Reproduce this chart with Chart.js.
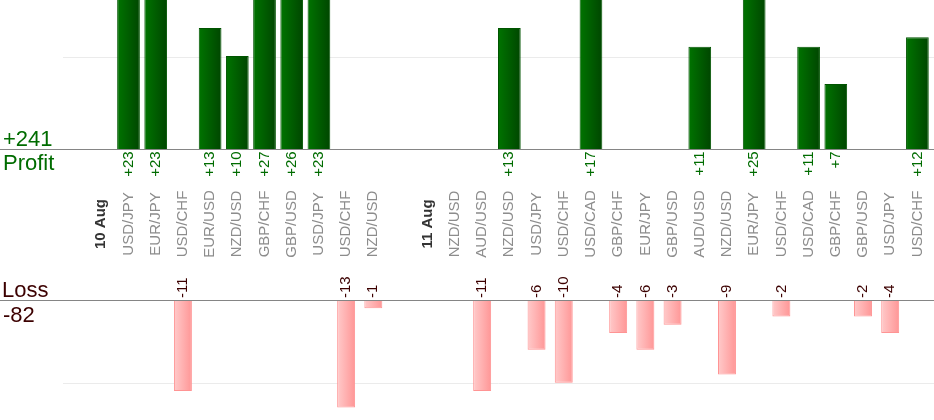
<!DOCTYPE html>
<html>
<head>
<meta charset="utf-8">
<script src="https://cdn.jsdelivr.net/npm/chart.js@4.4.1/dist/chart.umd.min.js"></script>
<style>
  body { margin: 0; background: #fff; overflow: hidden; }
  #wrap { position: relative; width: 934px; height: 420px; }
  canvas { position: absolute; left: 0; }
  #profit-canvas { top: 0; }
  #loss-canvas { top: 250px; }
</style>
</head>
<body>
<div id="wrap">
  <canvas id="profit-canvas" width="934" height="300"></canvas>
  <canvas id="loss-canvas" width="934" height="170"></canvas>
</div>
<script>
const pairs = [
  "", "10 Aug", "USD/JPY", "EUR/JPY", "USD/CHF", "EUR/USD", "NZD/USD", "GBP/CHF",
  "GBP/USD", "USD/JPY", "USD/CHF", "NZD/USD", "", "11 Aug", "NZD/USD", "AUD/USD",
  "NZD/USD", "USD/JPY", "USD/CHF", "USD/CAD", "GBP/CHF", "EUR/JPY", "GBP/USD", "AUD/USD",
  "NZD/USD", "EUR/JPY", "USD/CHF", "USD/CAD", "GBP/CHF", "GBP/USD", "USD/JPY", "USD/CHF",
];
const dayMarks = ["10 Aug", "11 Aug"];

const profitValues = [
  null, null, 23, 23, null, 13, 10, 27,
  26, 23, null, null, null, null, null, null,
  13, null, null, 17, null, null, null, 11,
  null, 25, null, 11, 7, null, null, 12,
];
const lossValues = [
  null, null, null, null, -11, null, null, null,
  null, null, -13, -1, null, null, null, -11,
  null, -6, -10, null, -4, -6, -3, null,
  -9, null, -2, null, null, -2, -4, null,
];

const profitMax = 16;
const lossMin = -14.5;
const gridValue = 10;

const greenText = "#006c00";
const lossText = "#3c0000";
const fontFamily = "'Liberation Sans', Arial, sans-serif";

Chart.defaults.font.family = fontFamily;

const sum = (arr) => arr.reduce((a, v) => a + (v || 0), 0);

const barGradient = (ctx, from, to, pct) => {
  const chart = ctx.chart;
  const xScale = chart.scales.x;
  if (ctx.type !== "data" || !xScale || !chart.chartArea) return from;
  const cx = xScale.getPixelForValue(ctx.dataIndex);
  const half = (chart.chartArea.width / pairs.length) * pct / 2;
  const g = chart.ctx.createLinearGradient(cx - half, 0, cx + half, 0);
  g.addColorStop(0, from);
  g.addColorStop(1, to);
  return g;
};

const drawUp = (ctx, text, x, y, align) => {
  ctx.save();
  ctx.translate(x, y);
  ctx.rotate(-Math.PI / 2);
  ctx.textAlign = align;
  ctx.textBaseline = "middle";
  ctx.fillText(text, 0, 0);
  ctx.restore();
};

const hLine = (ctx, y, x0, x1, color) => {
  ctx.save();
  ctx.strokeStyle = color;
  ctx.lineWidth = 1;
  ctx.beginPath();
  ctx.moveTo(x0, Math.round(y) + 0.5);
  ctx.lineTo(x1, Math.round(y) + 0.5);
  ctx.stroke();
  ctx.restore();
};

// top panel: grid, baseline, totals, values and pair names
const profitDecor = {
  id: "profitDecor",
  beforeDatasetsDraw(chart) {
    const y = chart.scales.y.getPixelForValue(gridValue);
    hLine(chart.ctx, y + 1, 63, chart.width, "#ebebeb");
  },
  afterDatasetsDraw(chart) {
    const ctx = chart.ctx;
    const x = chart.scales.x;
    const base = chart.scales.y.getPixelForValue(0);
    hLine(ctx, base - 0.5, 0, chart.width, "#858585");

    ctx.save();
    ctx.fillStyle = greenText;
    ctx.font = "22px " + fontFamily;
    ctx.textAlign = "left";
    ctx.textBaseline = "alphabetic";
    ctx.fillText("+" + sum(profitValues), 3, base - 3);
    ctx.fillText("Profit", 3, base + 21);

    ctx.font = "15px " + fontFamily;
    profitValues.forEach((v, i) => {
      if (v == null) return;
      drawUp(ctx, "+" + v, x.getPixelForValue(i), base + 2, "right");
    });

    pairs.forEach((name, i) => {
      if (!name) return;
      const isDay = dayMarks.includes(name);
      ctx.fillStyle = isDay ? "#333" : "#8c8c8c";
      ctx.font = (isDay ? "bold " : "") + "15px " + fontFamily;
      drawUp(ctx, name, x.getPixelForValue(i), 224, "center");
    });
    ctx.restore();
  },
};

// bottom panel: grid, baseline, totals and values
const lossDecor = {
  id: "lossDecor",
  beforeDatasetsDraw(chart) {
    const y = chart.scales.y.getPixelForValue(-gridValue);
    hLine(chart.ctx, y, 63, chart.width, "#ebebeb");
  },
  afterDatasetsDraw(chart) {
    const ctx = chart.ctx;
    const x = chart.scales.x;
    const base = chart.scales.y.getPixelForValue(0);
    hLine(ctx, base, 0, chart.width, "#858585");

    ctx.save();
    ctx.fillStyle = lossText;
    ctx.font = "22px " + fontFamily;
    ctx.textAlign = "left";
    ctx.fillText("Loss", 2, base - 3.5);
    ctx.fillText(String(sum(lossValues)), 3, base + 21.5);

    ctx.font = "15px " + fontFamily;
    lossValues.forEach((v, i) => {
      if (v == null) return;
      drawUp(ctx, String(v), x.getPixelForValue(i), base - 2, "left");
    });
    ctx.restore();
  },
};

const hiddenAxes = (min, max) => ({
  x: { type: "category", display: false, offset: true },
  y: { display: false, min, max },
});

new Chart(document.querySelector("#profit-canvas").getContext("2d"), {
  type: "bar",
  data: {
    labels: pairs,
    datasets: [
      {
        data: profitValues,
        backgroundColor: (c) => barGradient(c, "#007400", "#004600", 0.835),
        borderColor: "#005400",
        borderWidth: 1,
        categoryPercentage: 1,
        barPercentage: 0.835,
      },
    ],
  },
  options: {
    responsive: false,
    animation: false,
    layout: { padding: { left: 60.5, right: 3, top: 0, bottom: 150.7 } },
    scales: hiddenAxes(0, profitMax),
    plugins: { legend: { display: false }, tooltip: { enabled: false } },
  },
  plugins: [profitDecor],
});

new Chart(document.querySelector("#loss-canvas").getContext("2d"), {
  type: "bar",
  data: {
    labels: pairs,
    datasets: [
      {
        data: lossValues,
        backgroundColor: (c) => barGradient(c, "#ffcaca", "#ff9696", 0.66),
        borderColor: "#ff9494",
        borderWidth: 1,
        categoryPercentage: 1,
        barPercentage: 0.66,
      },
    ],
  },
  options: {
    responsive: false,
    animation: false,
    layout: { padding: { left: 60.5, right: 3, top: 50, bottom: 0 } },
    scales: hiddenAxes(lossMin, 0),
    plugins: { legend: { display: false }, tooltip: { enabled: false } },
  },
  plugins: [lossDecor],
});
</script>
</body>
</html>
